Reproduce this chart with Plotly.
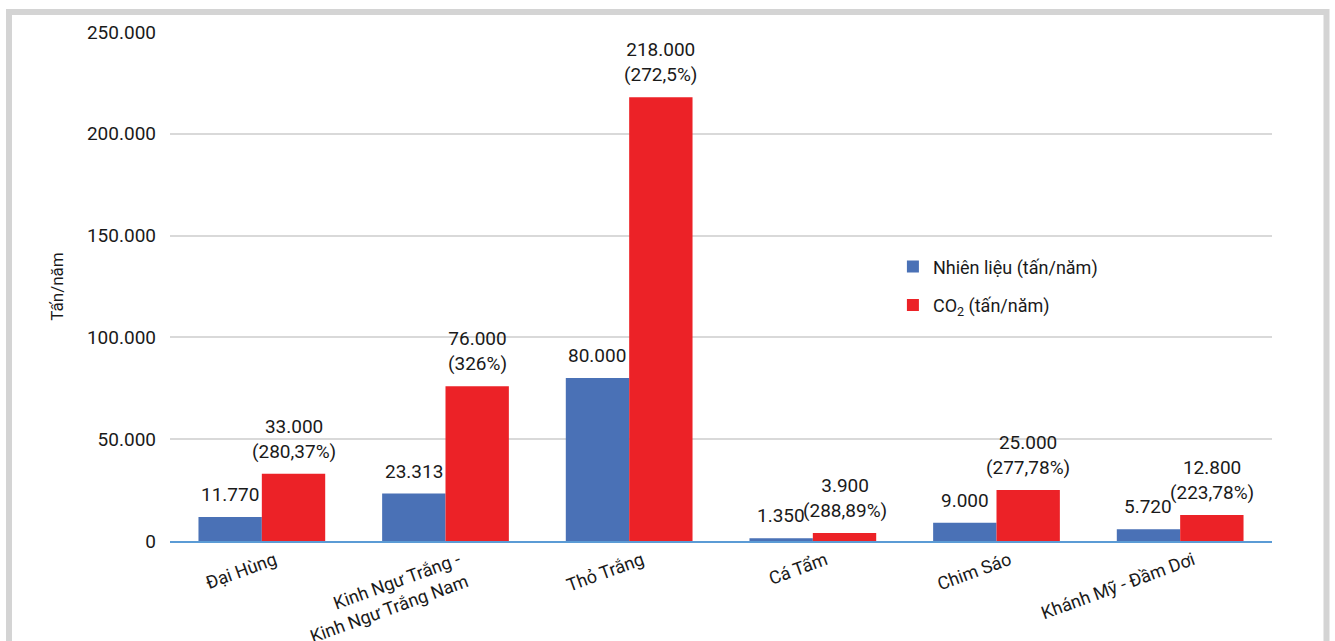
import plotly.graph_objects as go

categories = ["Đại Hùng", "Kinh Ngư Trắng -<br>Kinh Ngư Trắng Nam", "Thỏ Trắng",
              "Cá Tẩm", "Chim Sáo", "Khánh Mỹ - Đầm Dơi"]
fuel = [11770, 23313, 80000, 1350, 9000, 5720]
co2 = [33000, 76000, 218000, 3900, 25000, 12800]
co2_pct = ["(280,37%)", "(326%)", "(272,5%)", "(288,89%)", "(277,78%)", "(223,78%)"]
y_ticks = [0, 50000, 100000, 150000, 200000, 250000]

FONT = "Roboto, 'Liberation Sans', sans-serif"
TXT = "#1a1a1a"
LABEL_SIZE = 19
HALF_BAR_PX = 31.7   # horizontal offset of each grouped bar from its category centre
LABEL_GAP_PX = 9

def fmt(v):
    return f"{v:,}".replace(",", ".")

fig = go.Figure()
fig.add_trace(go.Bar(
    x=categories, y=fuel, name="Nhiên liệu (tấn/năm)", legendgroup="a",
    marker=dict(color="#4a71b6", line=dict(width=0)),
))
fig.add_trace(go.Bar(
    x=categories, y=co2, name="CO<sub>2</sub> (tấn/năm)", legendgroup="b",
    marker=dict(color="#ec2227", line=dict(width=0)),
))

annotations = []
for cat, f, c, p in zip(categories, fuel, co2, co2_pct):
    annotations.append(dict(x=cat, y=f, xref="x", yref="y", text=fmt(f), showarrow=False,
                            xanchor="center", yanchor="bottom", xshift=-HALF_BAR_PX,
                            yshift=LABEL_GAP_PX,
                            font=dict(size=LABEL_SIZE, color=TXT, family=FONT)))
    annotations.append(dict(x=cat, y=c, xref="x", yref="y", text=f"{fmt(c)}<br>{p}",
                            showarrow=False, xanchor="center", yanchor="bottom",
                            xshift=HALF_BAR_PX, yshift=LABEL_GAP_PX,
                            font=dict(size=LABEL_SIZE, color=TXT, family=FONT)))

fig.update_layout(
    width=1335, height=641,
    margin=dict(l=170, r=63, t=32, b=100),
    paper_bgcolor="white", plot_bgcolor="white",
    separators=",.",
    barmode="group", bargap=0.31, bargroupgap=0,
    font=dict(family=FONT, color=TXT, size=18),
    legend=dict(x=0.656, y=0.575, xanchor="left", yanchor="top",
                font=dict(size=18, color=TXT, family=FONT),
                bgcolor="rgba(0,0,0,0)", itemwidth=30, tracegroupgap=12),
    showlegend=True,
    annotations=annotations,
    xaxis=dict(showline=True, linecolor="#5b9bd5", linewidth=2, tickangle=-20,
               tickfont=dict(size=18, color=TXT, family=FONT), ticks="", showgrid=False,
               automargin=False, ticklabelshift=13, ticklabelstandoff=0),
    yaxis=dict(range=[0, 250000], tickvals=y_ticks, tickformat=",d", automargin=False,
               showgrid=True, gridcolor="#d9d9d9", gridwidth=1.5, zeroline=False,
               tickfont=dict(size=19, color=TXT, family=FONT), ticklabelstandoff=13,
               title=dict(text="Tấn/năm", font=dict(size=17, color=TXT, family=FONT), standoff=18)),
    shapes=[dict(type="rect", xref="paper", yref="paper",
                 x0=(9 - 170) / 1102, x1=(1326.5 - 170) / 1102,
                 y0=(541 - 700) / 509, y1=(541 - 12) / 509,
                 line=dict(color="#d4d4d4", width=6), fillcolor="rgba(0,0,0,0)", layer="below")],
)

fig.write_html("out.html")
